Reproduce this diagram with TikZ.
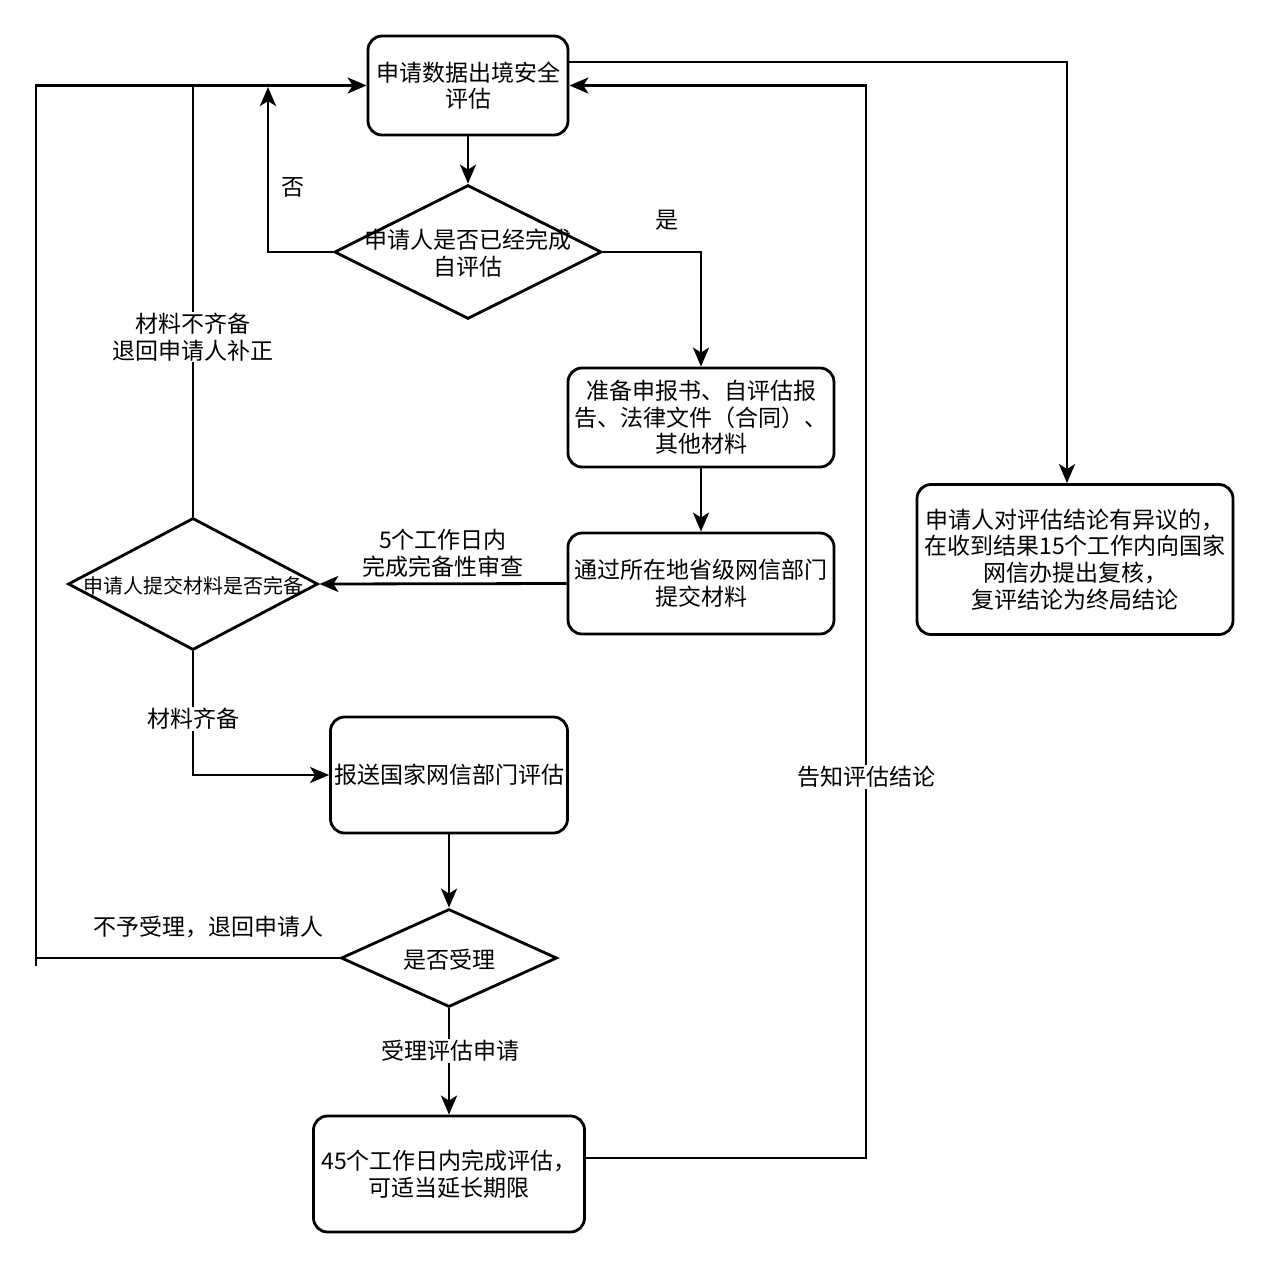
\documentclass[tikz,border=0pt]{standalone}
\usepackage{fontspec}
\setmainfont{Noto Sans CJK SC}
\usetikzlibrary{shapes.geometric,arrows.meta}
\tikzset{
  lw/.style={line width=2.8pt},
  boxnode/.style={lw,draw,rounded corners=14pt,align=center,inner sep=0pt,font=\fontsize{23}{26.7}\selectfont},
  dia/.style={lw,draw,diamond,inner sep=0pt},
  txt/.style={align=center,inner sep=1pt,font=\fontsize{23}{26.7}\selectfont},
  smalltxt/.style={align=center,inner sep=0pt,font=\fontsize{20}{24}\selectfont},
  lbl/.style={txt,fill=white},
  arr/.style={lw,-{Stealth[length=19pt,width=16pt,inset=5pt]}},
  conn/.style={lw},
}
\begin{document}
\begin{tikzpicture}[x=1pt,y=-1pt]
\useasboundingbox[fill=white] (0,0) rectangle (1267,1267);
% boxes
\node[boxnode,minimum width=200pt,minimum height=99pt] (b1) at (468,85.5) {申请数据出境安全\\评估};
\node[dia,minimum width=267pt,minimum height=134pt] (d1) at (468,252) {};
\node[txt] (d1t) at (468,253) {申请人是否已经完成\\自评估};
\node[boxnode,minimum width=266pt,minimum height=99pt] (b2) at (701,417.5) {准备申报书、自评估报\\告、法律文件（合同）、\\其他材料};
\node[boxnode,minimum width=266pt,minimum height=101pt] (b3) at (701,583.5) {通过所在地省级网信部门\\提交材料};
\node[dia,minimum width=250pt,minimum height=132pt] (d2) at (193,584) {};
\node[smalltxt] (d2t) at (193,586) {申请人提交材料是否完备};
\node[boxnode,minimum width=237pt,minimum height=116pt] (b4) at (449,775) {报送国家网信部门评估};
\node[dia,minimum width=216pt,minimum height=98pt] (d3) at (449,958) {};
\node[txt] (d3t) at (449,960) {是否受理};
\node[boxnode,minimum width=271pt,minimum height=116pt] (b5) at (449,1174) {45个工作日内完成评估，\\可适当延长期限};
\node[boxnode,minimum width=316pt,minimum height=150pt] (b6) at (1075,559.5) {申请人对评估结论有异议的，\\在收到结果15个工作内向国家\\网信办提出复核，\\复评结论为终局结论};
% helper coordinates
\coordinate (n1) at (268,87);
\coordinate (j1) at (193,85.5);
\coordinate (c1) at (36,958);
\coordinate (c0) at (36,966);
\coordinate (c2) at (36,85.5);
\coordinate (c3) at (866,85.5);
\coordinate (c4) at (1067,62);
\coordinate (c5) at (c4 |- b6.north);
% connectors
\draw[arr] (b1.south) -- (d1.north);
\draw[arr] (d1.west) -| (n1);
\draw[arr] (d1.east) -| (b2.north);
\draw[arr] (b2.south) -- (b3.north);
\draw[arr] (b3.west) -- (d2.east);
\draw[conn] (d2.north) -- (j1);
\draw[arr] (d2.south) |- (b4.west);
\draw[arr] (b4.south) -- (d3.north);
\draw[conn] (d3.west) -- (d3.west -| c1);
\draw[arr] (c0) -- (c2) -- (b1.west);
\draw[arr] (d3.south) -- (b5.north);
\draw[arr] ([yshift=16pt]b5.east) -| (c3) -- (b1.east);
\draw[arr] (b1.east |- c4) -- (c4) -- (c5);
% labels
\node[txt] (l1) at (293,187) {否};
\node[txt] (l2) at (667,220) {是};
\node[txt] (l3) at (443,553) {5个工作日内\\完成完备性审查};
\node[lbl] (l4) at (193,337) {材料不齐备\\退回申请人补正};
\node[lbl] (l5) at (193,719) {材料齐备};
\node[txt] (l6) at (208,927) {不予受理，退回申请人};
\node[lbl] (l7) at (450,1051) {受理评估申请};
\node[lbl] (l8) at (866,777) {告知评估结论};
\end{tikzpicture}
\end{document}
